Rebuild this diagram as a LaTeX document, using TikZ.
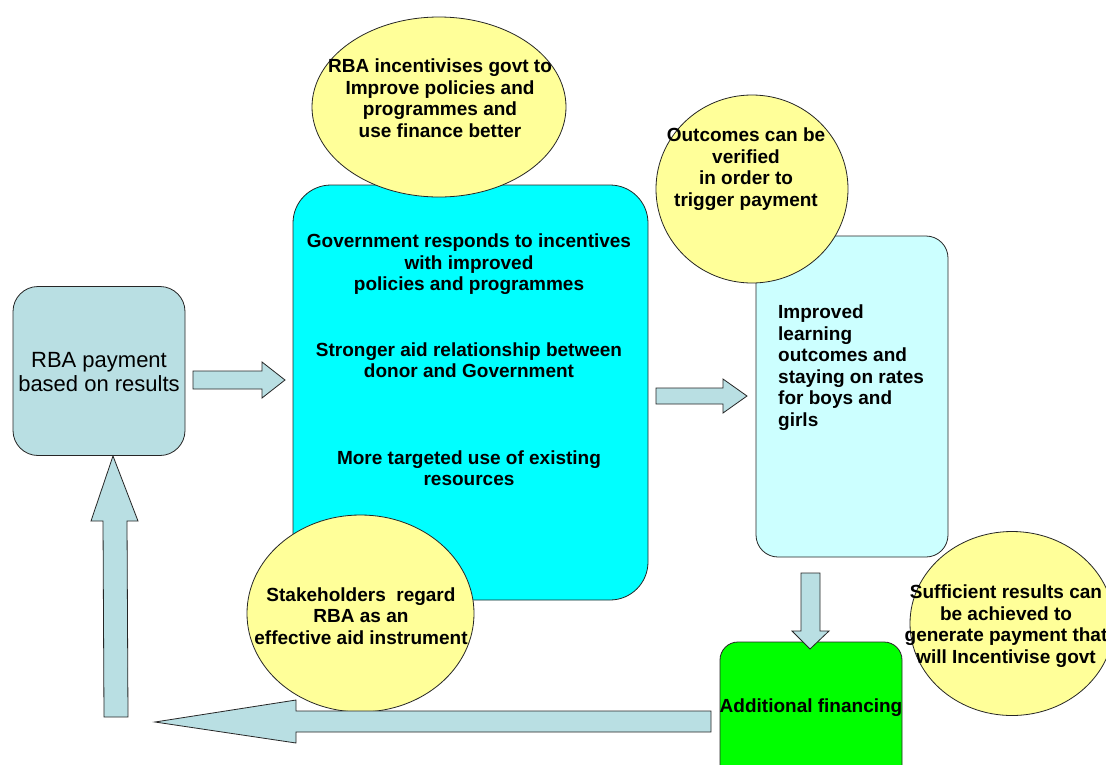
\documentclass[tikz,border=0pt]{standalone}
\usepackage{fontspec}
\setmainfont{Liberation Sans}
\usetikzlibrary{shapes.geometric}
\definecolor{paleblue}{HTML}{B9DFE3}
\definecolor{paleyellow}{HTML}{FFFF99}
\definecolor{palecyan}{HTML}{CCFFFF}
\definecolor{brightcyan}{HTML}{00FFFF}
\definecolor{brightgreen}{HTML}{00FF00}
\tikzset{
  outline/.style={draw=black!85, line width=0.8pt},
  roundbox/.style={outline, rectangle, inner sep=0pt},
  bubble/.style={outline, ellipse, fill=paleyellow, inner sep=0pt},
  boldtxt/.style={font=\fontsize{19}{21.5}\selectfont\bfseries, align=center, inner sep=0pt},
  blockarrow/.style={outline, fill=paleblue},
}
\begin{document}
\begin{tikzpicture}[x=1pt,y=-1pt]
\clip (0,0) rectangle (1106,764);
\fill[white] (0,0) rectangle (1106,764);

% boxes
\node[roundbox, fill=paleblue, minimum width=172pt, minimum height=169pt, rounded corners=25pt] (rba) at (99,371) {};
\node[roundbox, fill=brightcyan, minimum width=355pt, minimum height=415pt, rounded corners=38pt] (gov) at (470.5,392.5) {};
\node[roundbox, fill=palecyan, minimum width=192pt, minimum height=321pt, rounded corners=22pt] (imp) at (852,396.5) {};
\node[roundbox, fill=brightgreen, minimum width=182pt, minimum height=150pt, rounded corners=18pt] (fin) at (811,717) {};

% bubbles
\node[bubble, minimum width=254pt, minimum height=180pt] (incent) at (439,107) {};
\node[bubble, minimum width=192pt, minimum height=188pt] (verify) at (752,189) {};
\node[bubble, minimum width=227pt, minimum height=197pt] (stake) at (360.5,613.5) {};
\node[bubble, minimum width=204pt, minimum height=184pt] (suff) at (1012,623.5) {};

% block arrows
\draw[blockarrow] (193,371) -- (262,371) -- (262,362) -- (285,380) -- (262,398) -- (262,389) -- (193,389) -- cycle;
\draw[blockarrow] (656,388) -- (723,388) -- (723,379) -- (747,396) -- (723,413) -- (723,404) -- (656,404) -- cycle;
\draw[blockarrow] (801,573) -- (820,573) -- (820,631) -- (829,631) -- (810,649) -- (792,631) -- (801,631) -- cycle;
\draw[blockarrow] (711,711) -- (296,711) -- (296,700) -- (155,722) -- (296,743) -- (296,732) -- (711,732) -- cycle;
\draw[blockarrow] (104,717) -- (128,717) -- (127,521) -- (138,521) -- (113,456) -- (91,521) -- (103,521) -- cycle;

% texts
\node[font=\fontsize{22}{24}\selectfont, align=center, inner sep=0pt] (rbatxt) at (99,372) {RBA payment\\based on results};
\node[boldtxt] (g1) at (469,264.5) {Government responds to incentives\\with improved\\policies and programmes};
\node[boldtxt] (g2) at (469,360) {Stronger aid relationship between\\donor and Government};
\node[boldtxt] (g3) at (469,468) {More targeted use of existing\\resources};
\node[boldtxt, align=left, anchor=west] (imptxt) at (778,367.5) {Improved\\learning\\outcomes and\\staying on rates\\for boys and\\girls};
\node[boldtxt] (incenttxt) at (440,98) {RBA incentivises govt to\\Improve policies and\\programmes and\\use finance better};
\node[boldtxt] (verifytxt) at (746,169) {Outcomes can be\\verified\\in order to\\trigger payment};
\node[boldtxt] (staketxt) at (361,616) {Stakeholders\ \ regard\\RBA as an\hspace{38pt}\\effective aid instrument};
\node[boldtxt] (sufftxt) at (1006,626) {Sufficient results can\\be achieved to\\generate payment that\\will Incentivise govt};
\node[boldtxt] (fintxt) at (811,708) {Additional financing};
\end{tikzpicture}
\end{document}
